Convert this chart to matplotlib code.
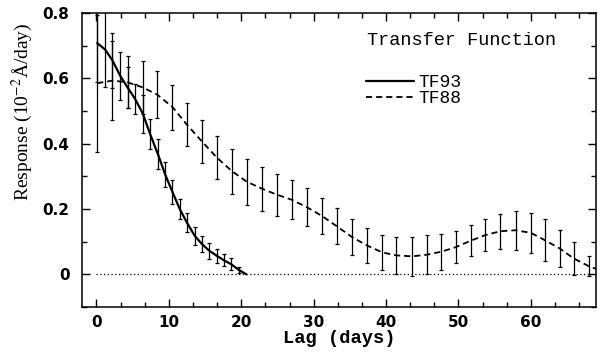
import matplotlib
matplotlib.use("Agg")
import matplotlib.pyplot as plt
import matplotlib.ticker as mticker
import numpy as np

# ---- data ----------------------------------------------------------------
tf93_lag = [0.1, 1.2, 2.2, 3.3, 4.3, 5.3, 6.4, 7.4, 8.5, 9.5, 10.5, 11.5,
            12.5, 13.6, 14.6, 15.6, 16.6, 17.6, 18.6, 19.7, 20.7]
tf93_val = [0.708, 0.688, 0.655, 0.607, 0.572, 0.538, 0.492, 0.430, 0.367,
            0.305, 0.252, 0.200, 0.158, 0.117, 0.092, 0.072, 0.057, 0.043,
            0.031, 0.013, 0.0]
tf93_err = [0.12, 0.115, 0.085, 0.073, 0.062, 0.046, 0.058, 0.046, 0.046,
            0.038, 0.038, 0.032, 0.029, 0.028, 0.025, 0.024, 0.022, 0.018,
            0.018, 0.008, np.nan]

tf88_lag = [0.1, 2.2, 4.3, 6.4, 8.4, 10.5, 12.5, 14.6, 16.6, 18.7, 20.8,
            22.9, 24.9, 27.0, 29.1, 31.2, 33.2, 35.3, 37.4, 39.5, 41.4,
            43.6, 45.6, 47.6, 49.6, 51.7, 53.7, 55.8, 57.9, 60.0, 61.9,
            64.0, 65.9, 68.0, 69.2]
tf88_val = [0.585, 0.593, 0.588, 0.572, 0.550, 0.512, 0.458, 0.406, 0.358,
            0.316, 0.283, 0.262, 0.244, 0.228, 0.205, 0.178, 0.147, 0.114,
            0.088, 0.067, 0.058, 0.055, 0.060, 0.069, 0.083, 0.103, 0.120,
            0.132, 0.135, 0.127, 0.105, 0.079, 0.049, 0.025, 0.015]
tf88_err = [0.21, 0.12, 0.08, 0.08, 0.071, 0.069, 0.066, 0.065, 0.066,
            0.069, 0.071, 0.068, 0.064, 0.060, 0.058, 0.056, 0.055, 0.054,
            0.053, 0.054, 0.057, 0.059, 0.059, 0.056, 0.049, 0.047, 0.048,
            0.054, 0.059, 0.062, 0.064, 0.058, 0.050, 0.030, np.nan]

y_ticks = [0, 0.2, 0.4, 0.6, 0.8]
x_ticks = [0, 10, 20, 30, 40, 50, 60]

INK = "black"
SERIF = ["Liberation Serif", "DejaVu Serif"]
MONO = ["Liberation Mono", "DejaVu Sans Mono"]

plt.rcParams.update({
    "mathtext.fontset": "stix",
    "axes.linewidth": 1.1,
})

fig = plt.figure(figsize=(5.98, 3.52), dpi=100)
ax = fig.add_axes([82 / 598, 1 - 307 / 352, 514 / 598, 294 / 352])

ax.axhline(0, xmin=2 / 71, xmax=1, color=INK, lw=0.9, ls=(0, (1, 2)), zorder=1)

l93, = ax.plot(tf93_lag, tf93_val, color=INK, lw=1.6, zorder=3,
               solid_capstyle="round", label="TF93")
ax.errorbar(tf93_lag, tf93_val, yerr=tf93_err, fmt="none", ecolor=INK,
            elinewidth=0.9, capsize=1.2, capthick=0.9, zorder=3)

l88, = ax.plot(tf88_lag, tf88_val, color=INK, lw=1.3, ls=(0, (3.4, 2.2)),
               zorder=3, label="TF88")
ax.errorbar(tf88_lag, tf88_val, yerr=tf88_err, fmt="none", ecolor=INK,
            elinewidth=0.9, capsize=1.2, capthick=0.9, zorder=3)

ax.set_xlim(-2, 69)
ax.set_ylim(-0.1, 0.8)
ax.set_xticks(x_ticks)
ax.set_yticks(y_ticks)
ax.xaxis.set_minor_locator(mticker.MultipleLocator(10 / 3))
ax.yaxis.set_minor_locator(mticker.MultipleLocator(0.1))
ax.yaxis.set_major_formatter(
    mticker.FuncFormatter(lambda v, _: "0" if abs(v) < 1e-9 else f"{v:.1f}"))
ax.tick_params(which="both", direction="in", top=True, right=True,
               width=1.0, colors=INK)
ax.tick_params(which="major", length=6)
ax.tick_params(which="minor", length=3.5)
ax.tick_params(axis="x", which="major", pad=6)
ax.tick_params(axis="y", which="major", pad=9)
for lab in ax.get_xticklabels() + ax.get_yticklabels():
    lab.set_fontfamily("DejaVu Sans")
    lab.set_fontweight("bold")
    lab.set_fontsize(11)

ax.set_xlabel("Lag (days)", family=MONO, fontsize=13.5, fontweight="bold",
              labelpad=0)
fig.text(22 / 598, 1 - 112 / 352, "Response (10$^{-2}$Å/day)", family=SERIF,
         fontsize=14, rotation=90, ha="center", va="center")

ax.text(0.555, 0.905, "Transfer Function", transform=ax.transAxes,
        family=MONO, fontsize=13.4, ha="left", va="center")
ax.legend(handles=[l93, l88], loc="upper left", bbox_to_anchor=(0.552, 0.792),
          frameon=False, prop={"family": MONO, "size": 13},
          handlelength=2.7, handletextpad=0.2, labelspacing=-0.05,
          borderpad=0, borderaxespad=0)

fig.savefig("out.png", dpi=100, facecolor="white")
